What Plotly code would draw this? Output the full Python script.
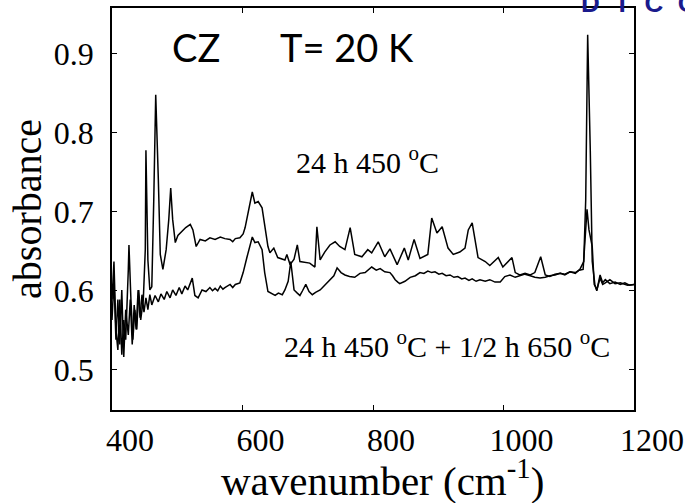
import plotly.graph_objects as go

# 24 h 450 °C  (upper spectrum)
wn_a = [400, 403, 406, 409, 412, 415, 418, 421, 425, 426, 429, 432, 435, 438, 441, 444, 448, 451, 452, 455,
        458, 461, 464, 467, 471, 474, 478, 483, 487, 490, 493, 497, 501, 507, 513, 520, 524, 529, 535, 543,
        550, 558, 566, 573, 581, 585, 589, 596, 601, 604, 609, 615, 619, 624, 630, 634, 639, 642, 648, 654,
        660, 665, 668, 673, 679, 684, 688, 695, 703, 711, 714, 719, 726, 734, 742, 749, 757, 765, 772, 783,
        792, 798, 808, 818, 826, 837, 848, 854, 863, 872, 884, 890, 898, 906, 915, 923, 933, 941, 946, 952,
        956, 961, 972, 979, 992, 999, 1013, 1018, 1025, 1033, 1041, 1048, 1057, 1064, 1071, 1079, 1087, 1094,
        1102, 1110, 1117, 1123, 1126, 1129, 1133, 1136, 1140, 1143, 1148, 1152, 1156, 1163, 1171, 1179, 1186,
        1193, 1200]
ab_a = [0.589, 0.637, 0.551, 0.525, 0.589, 0.519, 0.563, 0.538, 0.627, 0.658, 0.589, 0.538, 0.576, 0.551, 0.601,
        0.563, 0.589, 0.652, 0.778, 0.639, 0.601, 0.605, 0.715, 0.848, 0.741, 0.646, 0.627, 0.652, 0.690, 0.730,
        0.690, 0.661, 0.670, 0.675, 0.680, 0.684, 0.677, 0.656, 0.665, 0.663, 0.667, 0.665, 0.668, 0.666, 0.665,
        0.662, 0.666, 0.667, 0.672, 0.680, 0.700, 0.725, 0.711, 0.713, 0.705, 0.681, 0.656, 0.648, 0.654, 0.642,
        0.640, 0.639, 0.646, 0.633, 0.640, 0.658, 0.637, 0.636, 0.635, 0.630, 0.681, 0.639, 0.649, 0.658, 0.662,
        0.656, 0.652, 0.680, 0.646, 0.643, 0.652, 0.648, 0.662, 0.643, 0.653, 0.633, 0.654, 0.639, 0.665, 0.641,
        0.646, 0.692, 0.673, 0.681, 0.654, 0.646, 0.649, 0.654, 0.677, 0.686, 0.665, 0.642, 0.637, 0.632, 0.642,
        0.630, 0.642, 0.623, 0.620, 0.622, 0.620, 0.623, 0.643, 0.620, 0.618, 0.621, 0.622, 0.620, 0.624, 0.622,
        0.627, 0.637, 0.715, 0.924, 0.778, 0.637, 0.608, 0.600, 0.620, 0.610, 0.614, 0.609, 0.611, 0.608, 0.610,
        0.607, 0.608]

# 24 h 450 °C + 1/2 h 650 °C  (lower spectrum)
wn_b = [400, 403, 406, 409, 412, 415, 418, 421, 425, 428, 431, 434, 437, 440, 443, 446, 449, 452, 455, 458,
        461, 466, 471, 475, 480, 484, 489, 493, 498, 503, 507, 512, 516, 523, 527, 532, 538, 544, 550, 554,
        558, 562, 566, 570, 573, 577, 581, 585, 589, 596, 601, 607, 615, 619, 624, 630, 634, 639, 645, 650,
        655, 661, 665, 670, 674, 677, 679, 684, 688, 692, 697, 702, 707, 712, 719, 726, 734, 740, 745, 751,
        757, 764, 772, 780, 788, 794, 798, 805, 811, 818, 826, 830, 834, 838, 841, 849, 857, 865, 872, 878,
        884, 890, 895, 901, 906, 912, 918, 924, 930, 936, 941, 947, 952, 958, 964, 972, 979, 987, 995, 1002,
        1010, 1018, 1025, 1033, 1041, 1048, 1056, 1064, 1071, 1079, 1087, 1094, 1102, 1110, 1116, 1122, 1125,
        1128, 1131, 1136, 1139, 1143, 1148, 1152, 1156, 1163, 1171, 1179, 1190, 1200]
ab_b = [0.563, 0.614, 0.538, 0.589, 0.532, 0.601, 0.516, 0.576, 0.544, 0.589, 0.532, 0.582, 0.551, 0.601, 0.566,
        0.595, 0.573, 0.591, 0.576, 0.595, 0.582, 0.594, 0.586, 0.596, 0.589, 0.599, 0.591, 0.601, 0.594, 0.604,
        0.596, 0.606, 0.601, 0.616, 0.594, 0.591, 0.601, 0.599, 0.604, 0.600, 0.603, 0.600, 0.606, 0.602, 0.604,
        0.606, 0.608, 0.604, 0.608, 0.610, 0.623, 0.643, 0.668, 0.661, 0.662, 0.652, 0.623, 0.599, 0.596, 0.594,
        0.597, 0.595, 0.601, 0.612, 0.637, 0.615, 0.601, 0.597, 0.594, 0.600, 0.608, 0.599, 0.595, 0.598, 0.601,
        0.607, 0.614, 0.619, 0.629, 0.623, 0.620, 0.618, 0.617, 0.622, 0.623, 0.627, 0.630, 0.626, 0.628, 0.624,
        0.623, 0.619, 0.614, 0.611, 0.609, 0.612, 0.617, 0.619, 0.623, 0.622, 0.625, 0.623, 0.624, 0.621, 0.622,
        0.619, 0.620, 0.617, 0.618, 0.615, 0.616, 0.613, 0.615, 0.612, 0.614, 0.612, 0.614, 0.611, 0.611, 0.618,
        0.620, 0.617, 0.619, 0.621, 0.619, 0.617, 0.616, 0.617, 0.619, 0.620, 0.622, 0.621, 0.624, 0.623, 0.626,
        0.627, 0.665, 0.703, 0.677, 0.656, 0.608, 0.601, 0.616, 0.608, 0.610, 0.614, 0.609, 0.610, 0.607, 0.608]

x_ticks = [400, 600, 800, 1000, 1200]
y_ticks = [0.5, 0.6, 0.7, 0.8, 0.9]

serif = "Liberation Serif"

fig = go.Figure()
fig.add_trace(go.Scatter(x=wn_a, y=ab_a, mode="lines", line=dict(color="black", width=1.5), showlegend=False))
fig.add_trace(go.Scatter(x=wn_b, y=ab_b, mode="lines", line=dict(color="black", width=1.5), showlegend=False))

fig.update_layout(
    width=685, height=503,
    margin=dict(l=112, r=51, t=8, b=93),
    paper_bgcolor="white", plot_bgcolor="white",
    font=dict(family=serif, color="black"),
    xaxis=dict(range=[400, 1200], tickvals=x_ticks, ticktext=[str(v) for v in x_ticks],
               ticks="inside", ticklen=5, tickwidth=1, tickcolor="black",
               showline=True, linecolor="black", linewidth=1.5, mirror="ticks",
               showgrid=False, zeroline=False, tickfont=dict(size=32, family=serif),
               ticklabelshift=18, ticklabelstandoff=1,
               automargin=False),
    yaxis=dict(range=[0.449, 0.958], tickvals=y_ticks, ticktext=[f"{v:.1f}" for v in y_ticks],
               ticks="inside", ticklen=5, tickwidth=1, tickcolor="black",
               showline=True, linecolor="black", linewidth=1.5, mirror="ticks",
               showgrid=False, zeroline=False, tickfont=dict(size=32, family=serif),
               ticklabelstandoff=10,
               title=dict(text="absorbance", font=dict(size=40, family=serif), standoff=0),
               automargin=False),
)

# x-axis title (placed as annotation to match the reference's position)
fig.add_annotation(x=0.519, y=0, xref="paper", yref="paper", xanchor="center", yanchor="top", yshift=-40,
                   showarrow=False, text="wavenumber (cm<sup>-1</sup>)",
                   font=dict(family=serif, size=41, color="black"))

fig.add_annotation(x=489, y=0.909, xref="x", yref="y", xanchor="left", yanchor="middle",
                   text="CZ", showarrow=False, font=dict(family="Lato", size=38, color="black"))
fig.add_annotation(x=654, y=0.909, xref="x", yref="y", xanchor="left", yanchor="middle",
                   text="T= 20 K", showarrow=False, font=dict(family="Lato", size=38, color="black"))
fig.add_annotation(x=791, y=0.766, xref="x", yref="y", showarrow=False,
                   text="24 h 450 <sup>o</sup>C", font=dict(family=serif, size=30, color="black"))
fig.add_annotation(x=913, y=0.532, xref="x", yref="y", showarrow=False,
                   text="24 h 450 <sup>o</sup>C + 1/2 h 650 <sup>o</sup>C", font=dict(family=serif, size=30, color="black"))
fig.add_annotation(x=0.895, y=1, xref="paper", yref="paper", xanchor="left", yanchor="bottom", yshift=-12,
                   showarrow=False, text="<b>D  T  C  C</b>",
                   font=dict(family="Liberation Sans", size=26, color="#1a1a8c"))

fig.write_html("out.html")
